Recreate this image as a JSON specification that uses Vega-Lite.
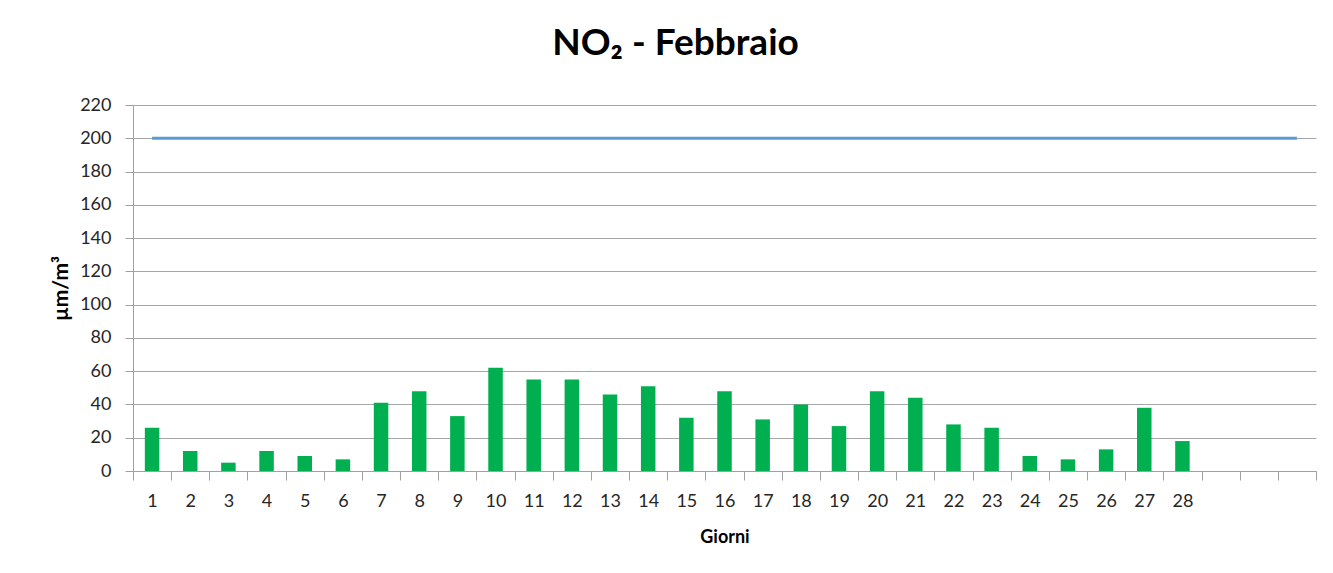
{
  "$schema": "https://vega.github.io/schema/vega-lite/v6.json",
  "autosize": "none",
  "width": 1183,
  "height": 366,
  "padding": {"left": 133, "top": 105, "right": 17, "bottom": 102},
  "background": "white",
  "title": {
    "text": "NO₂ - Febbraio",
    "font": "Lato",
    "fontSize": 37,
    "fontWeight": "bold",
    "color": "#000000",
    "anchor": "middle",
    "dx": -49,
    "offset": 33
  },
  "data": {
    "values": [
      {"g": 1, "v": 26, "lim": 200},
      {"g": 2, "v": 12, "lim": 200},
      {"g": 3, "v": 5, "lim": 200},
      {"g": 4, "v": 12, "lim": 200},
      {"g": 5, "v": 9, "lim": 200},
      {"g": 6, "v": 7, "lim": 200},
      {"g": 7, "v": 41, "lim": 200},
      {"g": 8, "v": 48, "lim": 200},
      {"g": 9, "v": 33, "lim": 200},
      {"g": 10, "v": 62, "lim": 200},
      {"g": 11, "v": 55, "lim": 200},
      {"g": 12, "v": 55, "lim": 200},
      {"g": 13, "v": 46, "lim": 200},
      {"g": 14, "v": 51, "lim": 200},
      {"g": 15, "v": 32, "lim": 200},
      {"g": 16, "v": 48, "lim": 200},
      {"g": 17, "v": 31, "lim": 200},
      {"g": 18, "v": 40, "lim": 200},
      {"g": 19, "v": 27, "lim": 200},
      {"g": 20, "v": 48, "lim": 200},
      {"g": 21, "v": 44, "lim": 200},
      {"g": 22, "v": 28, "lim": 200},
      {"g": 23, "v": 26, "lim": 200},
      {"g": 24, "v": 9, "lim": 200},
      {"g": 25, "v": 7, "lim": 200},
      {"g": 26, "v": 13, "lim": 200},
      {"g": 27, "v": 38, "lim": 200},
      {"g": 28, "v": 18, "lim": 200},
      {"g": 29, "v": null, "lim": 200},
      {"g": 30, "v": null, "lim": 200},
      {"g": 31, "v": null, "lim": 200}
    ]
  },
  "encoding": {
    "x": {
      "field": "g",
      "type": "ordinal",
      "scale": {"domain": [1,2,3,4,5,6,7,8,9,10,11,12,13,14,15,16,17,18,19,20,21,22,23,24,25,26,27,28,29,30,31], "paddingInner": 0, "paddingOuter": 0},
      "axis": {
        "title": "Giorni",
        "titleFont": "Lato",
        "titleFontSize": 18,
        "titleFontWeight": "bold",
        "titleColor": "#000000",
        "titlePadding": 18,
        "labelAngle": 0,
        "labelFont": "Lato",
        "labelFontSize": 18,
        "labelColor": "#262626",
        "labelPadding": 12,
        "labelOverlap": false,
        "labelExpr": "toNumber(datum.value) > 28 ? '' : datum.label",
        "tickBand": "extent",
        "tickSize": 9,
        "tickColor": "#A0A0A0",
        "domainColor": "#A0A0A0",
        "grid": false
      }
    }
  },
  "layer": [
    {
      "mark": {"type": "bar", "color": "#00B050", "width": {"band": 0.38}},
      "encoding": {
        "y": {
          "field": "v",
          "type": "quantitative",
          "scale": {"domain": [0, 220]},
          "axis": {
            "title": "µm/m³",
            "titleFont": "Lato",
            "titleFontSize": 21,
            "titleFontWeight": "bold",
            "titleColor": "#000000",
            "titlePadding": 8,
            "values": [0,20,40,60,80,100,120,140,160,180,200,220],
            "tickCount": 12,
            "labelOverlap": false,
            "labelFont": "Lato",
            "labelFontSize": 18,
            "labelColor": "#262626",
            "labelPadding": 14,
            "tickSize": 8,
            "tickColor": "#A0A0A0",
            "domainColor": "#A0A0A0",
            "gridColor": "#A6A6A6",
            "gridWidth": 1
          }
        }
      }
    },
    {
      "mark": {"type": "line", "color": "#5B9BD5", "strokeWidth": 3},
      "encoding": {
        "y": {
          "field": "lim",
          "type": "quantitative",
          "scale": {"domain": [0, 220]},
          "axis": {
            "title": "µm/m³",
            "titleFont": "Lato",
            "titleFontSize": 21,
            "titleFontWeight": "bold",
            "titleColor": "#000000",
            "titlePadding": 8,
            "values": [0,20,40,60,80,100,120,140,160,180,200,220],
            "tickCount": 12,
            "labelOverlap": false,
            "labelFont": "Lato",
            "labelFontSize": 18,
            "labelColor": "#262626",
            "labelPadding": 14,
            "tickSize": 8,
            "tickColor": "#A0A0A0",
            "domainColor": "#A0A0A0",
            "gridColor": "#A6A6A6",
            "gridWidth": 1
          }
        }
      }
    }
  ],
  "config": {
    "view": {"stroke": null}
  }
}
